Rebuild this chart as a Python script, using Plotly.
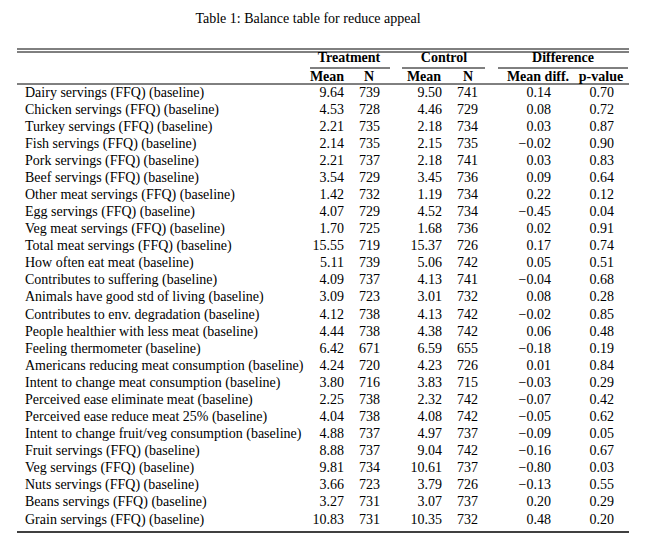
import plotly.graph_objects as go

labels = [
    "Dairy servings (FFQ) (baseline)",
    "Chicken servings (FFQ) (baseline)",
    "Turkey servings (FFQ) (baseline)",
    "Fish servings (FFQ) (baseline)",
    "Pork servings (FFQ) (baseline)",
    "Beef servings (FFQ) (baseline)",
    "Other meat servings (FFQ) (baseline)",
    "Egg servings (FFQ) (baseline)",
    "Veg meat servings (FFQ) (baseline)",
    "Total meat servings (FFQ) (baseline)",
    "How often eat meat (baseline)",
    "Contributes to suffering (baseline)",
    "Animals have good std of living (baseline)",
    "Contributes to env. degradation (baseline)",
    "People healthier with less meat (baseline)",
    "Feeling thermometer (baseline)",
    "Americans reducing meat consumption (baseline)",
    "Intent to change meat consumption (baseline)",
    "Perceived ease eliminate meat (baseline)",
    "Perceived ease reduce meat 25% (baseline)",
    "Intent to change fruit/veg consumption (baseline)",
    "Fruit servings (FFQ) (baseline)",
    "Veg servings (FFQ) (baseline)",
    "Nuts servings (FFQ) (baseline)",
    "Beans servings (FFQ) (baseline)",
    "Grain servings (FFQ) (baseline)",
]
treat_mean = [9.64, 4.53, 2.21, 2.14, 2.21, 3.54, 1.42, 4.07, 1.70, 15.55, 5.11, 4.09, 3.09,
              4.12, 4.44, 6.42, 4.24, 3.80, 2.25, 4.04, 4.88, 8.88, 9.81, 3.66, 3.27, 10.83]
treat_n = [739, 728, 735, 735, 737, 729, 732, 729, 725, 719, 739, 737, 723,
           738, 738, 671, 720, 716, 738, 738, 737, 737, 734, 723, 731, 731]
ctrl_mean = [9.50, 4.46, 2.18, 2.15, 2.18, 3.45, 1.19, 4.52, 1.68, 15.37, 5.06, 4.13, 3.01,
             4.13, 4.38, 6.59, 4.23, 3.83, 2.32, 4.08, 4.97, 9.04, 10.61, 3.79, 3.07, 10.35]
ctrl_n = [741, 729, 734, 735, 741, 736, 734, 734, 736, 726, 742, 741, 732,
          742, 742, 655, 726, 715, 742, 742, 737, 742, 737, 726, 737, 732]
mean_diff = [0.14, 0.08, 0.03, -0.02, 0.03, 0.09, 0.22, -0.45, 0.02, 0.17, 0.05, -0.04, 0.08,
             -0.02, 0.06, -0.18, 0.01, -0.03, -0.07, -0.05, -0.09, -0.16, -0.80, -0.13, 0.20, 0.48]
p_value = [0.70, 0.72, 0.87, 0.90, 0.83, 0.64, 0.12, 0.04, 0.91, 0.74, 0.51, 0.68, 0.28,
           0.85, 0.48, 0.19, 0.84, 0.29, 0.42, 0.62, 0.05, 0.67, 0.03, 0.55, 0.29, 0.20]

title = "Table 1: Balance table for reduce appeal"
group_headers = ["Treatment", "Control", "Difference"]
sub_headers = ["Mean", "N", "Mean", "N", "Mean diff.", "p-value"]

FONT = "Liberation Serif"
FS = 14
W, H = 650, 553
PAD = 8  # default page body margin; axes are offset so data units equal page pixels
Y0, DY = 93, 17.08
rows_y = [Y0 + i * DY for i in range(len(labels))]


def fmt(v):
    s = f"{abs(v):.2f}"
    return ("\u2212" + s) if v < 0 else s


fig = go.Figure()

def text_trace(xs, ys, texts, pos, size=FS, bold=False):
    fig.add_trace(go.Scatter(
        x=xs, y=ys, text=[f"<b>{t}</b>" if bold else t for t in texts],
        mode="text", textposition=pos, hoverinfo="skip", showlegend=False,
        textfont=dict(family=FONT, size=size, color="black")))

# labels
text_trace([25] * len(labels), rows_y, labels, "middle right")
# numeric columns (right aligned)
cols = [
    (344, [fmt(v) for v in treat_mean]),
    (380, [str(v) for v in treat_n]),
    (442, [fmt(v) for v in ctrl_mean]),
    (478, [str(v) for v in ctrl_n]),
    (551, [fmt(v) for v in mean_diff]),
    (614, [fmt(v) for v in p_value]),
]
for x, vals in cols:
    text_trace([x] * len(vals), rows_y, vals, "middle left")

# headers
text_trace([349, 444, 563], [58] * 3, group_headers, "middle center", bold=True)
text_trace([327, 369, 424, 468, 538, 601], [77] * 6, sub_headers, "middle center", bold=True)
# title
text_trace([308], [19], [title], "middle center")

# rules
line = dict(color="black", width=1)
shapes = [
    dict(type="line", x0=17, x1=629, y0=49, y1=49, line=line),
    dict(type="line", x0=17, x1=629, y0=52, y1=52, line=line),
    dict(type="line", x0=310, x1=390, y0=68, y1=68, line=line),
    dict(type="line", x0=402, x1=485, y0=68, y1=68, line=line),
    dict(type="line", x0=498, x1=628, y0=68, y1=68, line=line),
    dict(type="line", x0=17, x1=629, y0=84, y1=84, line=line),
    dict(type="line", x0=17, x1=629, y0=532, y1=532, line=dict(color="black", width=1.5)),
]
for s in shapes:
    s.update(xref="x", yref="y")

fig.update_layout(
    width=W - PAD, height=H - PAD, margin=dict(l=0, r=0, t=0, b=0),
    paper_bgcolor="white", plot_bgcolor="white",
    xaxis=dict(range=[PAD, W], visible=False, fixedrange=True),
    yaxis=dict(range=[H, PAD], visible=False, fixedrange=True),
    shapes=shapes,
)

fig.write_html("out.html")
